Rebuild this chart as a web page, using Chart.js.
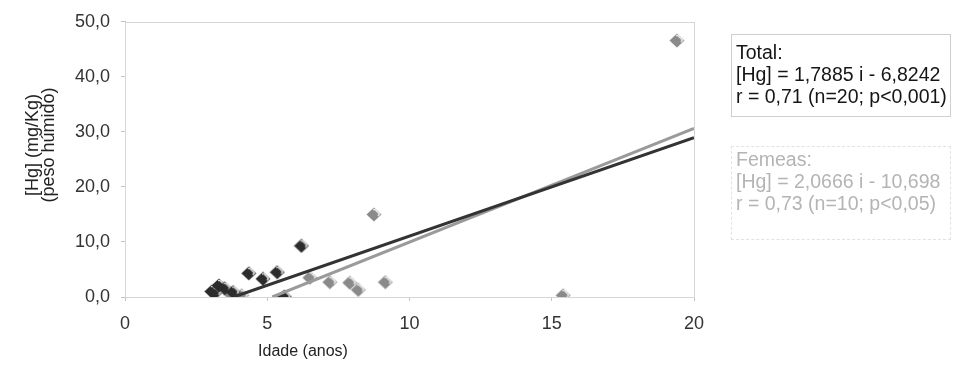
<!DOCTYPE html>
<html>
<head>
<meta charset="utf-8">
<script src="https://cdn.jsdelivr.net/npm/chart.js@4.4.0/dist/chart.umd.min.js"></script>
<style>
    body { margin: 0; background: #fff; }
    #wrap { position: relative; width: 956px; height: 373px; font-family: "Liberation Sans", Arial, sans-serif; }
    #chart { position: absolute; left: 0; top: 0; }
    .note { position: absolute; left: 731px; width: 214px; font-size: 19.5px; line-height: 22px; padding-left: 4px; white-space: nowrap; }
    #note-total { top: 34px; height: 75px; padding-top: 6px; border: 1px solid #cfcfcf; color: #151515; }
    #note-femeas { top: 146px; height: 91px; padding-top: 1px; border: 1px dashed #e2e2e2; color: #b4b4b4; }
    #x-title { position: absolute; left: 200px; width: 206px; top: 342px; text-align: center; font-size: 16px; color: #222; }
    #y-title { position: absolute; left: -60px; top: 129px; width: 200px; height: 32px; line-height: 16px;
               text-align: center; font-size: 18px; color: #222; transform: rotate(-90deg); white-space: nowrap; }
</style>
</head>
<body>
<div id="wrap">
    <canvas id="chart" width="956" height="373"></canvas>
    <div class="note" id="note-total">Total:<br>[Hg] = 1,7885 i - 6,8242<br>r = 0,71 (n=20; p&lt;0,001)</div>
    <div class="note" id="note-femeas">Femeas:<br>[Hg] = 2,0666 i - 10,698<br>r = 0,73 (n=10; p&lt;0,05)</div>
    <div id="x-title">Idade (anos)</div>
    <div id="y-title">[Hg] (mg/Kg)<br>(peso húmido)</div>
</div>
<script>
// Age (years) and Hg concentration (mg/Kg wet weight) per fish
const machoIdade = [3.05, 3.15, 3.3, 3.5, 3.8, 4.35, 4.85, 5.35, 5.6, 6.2];
const machoHg    = [1.0, 0.7, 2.1, 1.6, 0.9, 4.3, 3.3, 4.5, 0.1, 9.3];
const femeaIdade = [3.7, 4.1, 6.5, 7.2, 7.9, 8.2, 8.75, 9.15, 15.4, 19.4];
const femeaHg    = [0.6, 0.3, 3.5, 2.7, 2.6, 1.3, 15.0, 2.7, 0.3, 46.6];

// Regression fits (slope, intercept)
const totalFit = [1.7885, -6.8242];
const femeaFit = [2.0666, -10.698];

const xTicks = [0, 5, 10, 15, 20];
const yTicks = [0, 10, 20, 30, 40, 50];

// Fit line from where it crosses zero up to the end of the axis
function fitLine(fit) {
    const [a, b] = fit;
    const x0 = -b / a;
    return [{ x: x0, y: 0 }, { x: 20, y: a * 20 + b }];
}

function toPoints(xs, ys) {
    return xs.map((x, i) => ({ x: x, y: ys[i] }));
}

// Small bevelled diamond marker
function makeDiamond(fill, shine) {
    const c = document.createElement('canvas');
    c.width = 16; c.height = 15;
    const g = c.getContext('2d');
    g.beginPath();
    g.moveTo(8, 0.5); g.lineTo(15.5, 7.5); g.lineTo(8, 14.5); g.lineTo(0.5, 7.5);
    g.closePath();
    g.fillStyle = fill;
    g.fill();
    g.beginPath();
    g.moveTo(7, 2.5); g.lineTo(9, 2.5); g.lineTo(13.5, 7); g.lineTo(12, 9);
    g.strokeStyle = shine;
    g.lineWidth = 1.6;
    g.stroke();
    return c;
}

const plotFrame = {
    id: 'plotFrame',
    beforeDatasetsDraw(chart) {
        const { ctx, chartArea: a } = chart;
        ctx.save();
        ctx.strokeStyle = '#d6d6d6';
        ctx.lineWidth = 1;
        ctx.strokeRect(Math.round(a.left) + 0.5, Math.round(a.top) + 0.5, Math.round(a.width), Math.round(a.height));
        ctx.restore();
    }
};

const tickFont = { family: '"Liberation Sans", Arial, sans-serif', size: 18 };

new Chart(document.getElementById('chart'), {
    type: 'scatter',
    data: {
        datasets: [
            {
                label: 'Total',
                data: fitLine(totalFit),
                showLine: true,
                borderColor: '#333333',
                borderWidth: 3,
                pointRadius: 0,
                order: 0
            },
            {
                label: 'Femeas',
                data: fitLine(femeaFit),
                showLine: true,
                borderColor: '#9a9a9a',
                borderWidth: 3,
                pointRadius: 0,
                order: 1
            },
            {
                label: 'Machos',
                data: toPoints(machoIdade, machoHg),
                pointStyle: makeDiamond('#2c2c2c', '#d8d8d8'),
                order: 2
            },
            {
                label: 'Femeas pts',
                data: toPoints(femeaIdade, femeaHg),
                pointStyle: makeDiamond('#8a8a8a', '#e6e6e6'),
                order: 3
            }
        ]
    },
    options: {
        responsive: false,
        animation: false,
        layout: { padding: { left: 0, right: 262, top: 12, bottom: 0 } },
        plugins: { legend: { display: false }, tooltip: { enabled: false } },
        scales: {
            x: {
                type: 'linear',
                min: 0,
                max: 20,
                afterBuildTicks: scale => { scale.ticks = xTicks.map(v => ({ value: v })); },
                afterFit: scale => { scale.height = 76; },
                grid: { drawOnChartArea: false, color: '#c4c4c4', tickLength: 4 },
                border: { color: '#c4c4c4' },
                ticks: { color: '#333', font: tickFont, padding: 12 }
            },
            y: {
                type: 'linear',
                min: 0,
                max: 50,
                afterBuildTicks: scale => { scale.ticks = yTicks.map(v => ({ value: v })); },
                afterFit: scale => { scale.width = 125; },
                grid: { drawOnChartArea: false, color: '#c4c4c4', tickLength: 4 },
                border: { color: '#c4c4c4' },
                ticks: {
                    color: '#333',
                    font: tickFont,
                    padding: 11,
                    callback: v => v.toFixed(1).replace('.', ',')
                }
            }
        }
    },
    plugins: [plotFrame]
});
</script>
</body>
</html>
